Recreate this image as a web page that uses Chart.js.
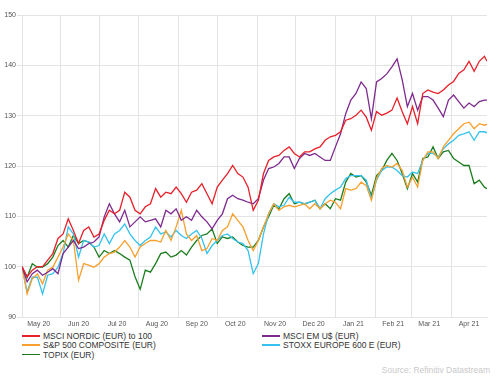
<!DOCTYPE html>
<html>
<head>
<meta charset="utf-8">
<script src="https://cdn.jsdelivr.net/npm/chart.js@4/dist/chart.umd.min.js"></script>
<style>
  body { margin: 0; background: #fff; font-family: "Liberation Sans", Arial, sans-serif; }
  #wrap { position: relative; width: 501px; height: 376px; }
  #legend { position: absolute; left: 22px; top: 332px; width: 470px; font-size: 8.5px; color: #333; line-height: 9.3px; }
  .lg-item { position: absolute; white-space: nowrap; }
  .lg-line { display: inline-block; width: 18px; height: 1.5px; vertical-align: middle; margin-right: 3px; position: relative; top: -1px; }
  #source { position: absolute; right: 11px; top: 365px; font-size: 8.5px; color: #c9c9c9; }
</style>
</head>
<body>
<div id="wrap">
  <canvas id="chart" width="501" height="330"></canvas>
  <div id="legend"></div>
  <div id="source">Source: Refinitiv Datastream</div>
</div>
<script>
// days since 1 May 2020
const days = [
  1, 5, 9, 13, 17, 21, 25, 29, 33, 37,
  41, 45, 49, 53, 57, 61, 65, 69, 73, 77,
  81, 85, 89, 93, 97, 101, 105, 109, 113,
  117, 121, 125, 129, 133, 137, 141, 145, 149, 153,
  157, 161, 165, 169, 173, 177, 181, 185, 189, 193,
  197, 201, 205, 209, 213, 217, 221, 225, 229, 233, 237,
  241, 245, 249, 253, 257, 261, 265, 269, 273, 277,
  281, 285, 289, 293, 297, 301, 305, 309, 313, 317,
  321, 325, 329, 333, 337, 341, 345, 349, 353, 357, 361, 363
];

const nordic = [
  100, 98, 99.3, 100, 100, 101.3, 102.6, 105.6, 106.5, 109.5,
  107.2, 104.6, 107.2, 107.9, 105.9, 106.5, 109.2, 111.2, 110.5, 111.2,
  114.8, 113.8, 111.2, 110.5, 111.9, 112.5, 115.5, 113.8, 114.8,
  114.5, 115.8, 114.5, 112.8, 114.8, 115.2, 116.5, 114.5, 112.5, 115.8,
  117.2, 118.5, 120.1, 118.5, 117.8, 115.8, 111.2, 113.2, 118.5, 121.1,
  121.8, 122.1, 123.1, 123.8, 122.5, 121.8, 122.8, 122.8, 123.4, 123.8, 125.1,
  125.8, 126.1, 126.8, 129.1, 129.4, 130.1, 131.1, 129.7, 127.1, 130.8,
  130.1, 130.5, 131.1, 133.5, 130.8, 128.4, 131.8, 128.4, 134.4, 135.1,
  134.7, 134.4, 135.1, 136.1, 136.8, 138.4, 139.1, 140.8, 138.8, 140.8, 141.8, 140.8
];

const emerging = [
  100, 97, 98.6, 99.3, 98.3, 98.9, 99.6, 98.6, 102.6, 103.9,
  105.2, 103.6, 103.9, 104.6, 104.9, 105.9, 109.9, 112.5, 110.5, 108.9,
  111.2, 107.9, 108.9, 109.9, 108.9, 109.2, 109.5, 107.9, 111.2,
  110.5, 111.5, 109.2, 109.9, 109.2, 111.2, 109.9, 108.9, 107.5, 109.2,
  110.5, 113.5, 114.2, 113.5, 113.2, 112.8, 112.5, 113.5, 117.2, 119.5,
  119.8, 120.5, 121.8, 121.8, 119.5, 121.5, 122.5, 122.1, 122.5, 121.8, 121.1,
  121.1, 123.8, 126.4, 130.4, 133.1, 134.4, 136.7, 135.4, 129.4, 136.7,
  137.4, 138.3, 139.7, 141.3, 137.1, 131.8, 134.4, 131.1, 133.8, 133.8,
  133.1, 131.5, 129.8, 133.1, 134.1, 132.8, 131.5, 132.5, 131.8, 132.8, 133.1, 133.1
];

const sp500 = [
  100, 94.6, 97.6, 98.6, 96.6, 99.3, 99.9, 101.9, 103.9, 106.5,
  105.2, 97.3, 100.6, 100.3, 99.9, 100.6, 101.9, 102.6, 102.9, 103.9,
  105.2, 103.9, 101.9, 103.9, 104.6, 105.2, 105.2, 104.9, 107.2,
  105.2, 107.9, 111.2, 106.5, 105.2, 106.2, 103.2, 103.6, 105.6, 105.2,
  107.2, 107.9, 110.5, 109.2, 107.9, 105.2, 103.2, 105.2, 107.9, 110.5,
  112.5, 111.2, 111.9, 112.2, 111.9, 112.2, 112.5, 111.5, 112.5, 111.5, 112.5,
  113.2, 112.8, 111.5, 115.5, 115.2, 115.5, 116.8, 116.1, 113.2, 117.5,
  119.5, 120.1, 119.8, 120.5, 119.1, 115.8, 117.8, 115.8, 121.1, 122.8,
  122.8, 121.5, 123.8, 125.1, 126.4, 127.4, 128.4, 128.7, 127.4, 128.4, 128.1, 128.3
];

const stoxx600 = [
  100, 95, 97.9, 97.9, 94.6, 98.3, 98.6, 99.9, 102.6, 107.9,
  106.5, 101.9, 105.2, 104.9, 103.9, 104.2, 106.5, 104.6, 106.5, 107.2,
  108.5, 106.5, 105.2, 104.2, 105.2, 105.9, 107.9, 106.5, 106.9,
  105.9, 107.2, 106.2, 105.6, 106.5, 107.2, 105.6, 102.6, 104.2, 105.2,
  106.2, 106.5, 105.6, 104.9, 104.6, 103.2, 98.6, 100.6, 106.5, 110.5,
  112.5, 111.9, 112.2, 113.8, 112.8, 112.8, 112.5, 112.8, 113.2, 111.5, 113.5,
  114.5, 115.2, 115.8, 117.5, 118.1, 118.1, 118.1, 117.2, 113.5, 117.2,
  119.1, 119.8, 119.8, 119.1, 118.1, 117.8, 118.8, 118.5, 121.1, 122.5,
  122.5, 121.8, 123.4, 124.4, 125.1, 126.1, 126.4, 126.8, 125.1, 126.8, 126.8, 126.6
];

const topix = [
  100, 97.9, 100.6, 99.9, 99.9, 100.6, 101.9, 104.2, 105.2, 103.9,
  106.2, 104.6, 105.2, 104.9, 103.9, 101.9, 103.2, 102.6, 103.2, 102.6,
  101.9, 101.3, 98, 95.5, 99.3, 98.9, 100.6, 102.6, 102.9,
  101.9, 102.3, 103.2, 102.3, 103.9, 105.2, 106.2, 106.5, 107.5, 104.6,
  105.9, 105.6, 105.9, 104.9, 104.2, 103.9, 103.9, 105.2, 107.9, 109.9,
  112.2, 111.5, 113.5, 114.5, 112.5, 112.8, 112.5, 112.8, 113.2, 111.5, 112.5,
  111.5, 113.5, 113.2, 116.8, 118.5, 117.8, 118.1, 116.8, 114.2, 118.1,
  119.1, 121.1, 122.5, 121.1, 118.5, 115.5, 118.5, 116.8, 121.5, 121.8,
  123.8, 121.5, 122.8, 123.1, 121.5, 120.8, 120.1, 120.1, 116.5, 117.2, 115.8, 115.5
];

const seriesNames = [
  'MSCI NORDIC (EUR) to 100',
  'MSCI EM U$ (EUR)',
  'S&P 500 COMPOSITE (EUR)',
  'STOXX EUROPE 600 E (EUR)',
  'TOPIX (EUR)'
];
const seriesColors = ['#e8202a', '#7e2a8e', '#f7a02e', '#34c2ee', '#1b7d1f'];
const monthLabels = ['May 20', 'Jun 20', 'Jul 20', 'Aug 20', 'Sep 20', 'Oct 20',
  'Nov 20', 'Dec 20', 'Jan 21', 'Feb 21', 'Mar 21', 'Apr 21'];
const yTicks = [90, 100, 110, 120, 130, 140, 150];

const DAY0 = Date.UTC(2020, 4, 1);
const dayOf = (y, m, d) => (Date.UTC(y, m, d) - DAY0) / 864e5;
const monthStart = [];
const monthMid = [];
monthLabels.forEach((lab, i) => {
  const y = 2020 + Math.floor((4 + i) / 12);
  const m = (4 + i) % 12;
  if (i > 0) monthStart.push(dayOf(y, m, 1));
  monthMid.push(dayOf(y, m, 15));
});
const startSet = new Set(monthStart);
const midLabel = new Map(monthMid.map((v, i) => [v, monthLabels[i]]));

const allSeries = [nordic, emerging, sp500, stoxx600, topix];
const datasets = allSeries.map((vals, i) => ({
  label: seriesNames[i],
  data: vals.map((v, j) => ({ x: days[j], y: v })),
  borderColor: seriesColors[i],
  backgroundColor: seriesColors[i],
  borderWidth: 1.3,
  pointRadius: 0,
  tension: 0,
  fill: false
}));

const gridCol = '#e4e4e4';

new Chart(document.getElementById('chart').getContext('2d'), {
  type: 'line',
  data: { datasets },
  options: {
    responsive: false,
    animation: false,
    devicePixelRatio: 1,
    layout: { padding: { top: 15, right: 14, left: 0, bottom: 0 } },
    plugins: { legend: { display: false }, tooltip: { enabled: false } },
    scales: {
      x: {
        type: 'linear',
        min: 1,
        max: 363,
        afterBuildTicks: scale => {
          scale.ticks = [...monthStart, ...monthMid].sort((a, b) => a - b).map(v => ({ value: v }));
        },
        afterFit: scale => { scale.height = 13; },
        grid: {
          color: ctx => (ctx.tick && startSet.has(ctx.tick.value)) ? gridCol : 'rgba(0,0,0,0)',
          drawTicks: false
        },
        border: { color: gridCol },
        ticks: {
          autoSkip: false,
          maxRotation: 0,
          padding: 3,
          color: '#555',
          font: { family: '"Liberation Sans", Arial, sans-serif', size: 7 },
          callback: v => midLabel.get(v) || ''
        }
      },
      y: {
        min: 90,
        max: 150,
        afterBuildTicks: scale => { scale.ticks = yTicks.map(v => ({ value: v })); },
        afterFit: scale => { scale.width = 22; },
        grid: { color: gridCol, tickLength: 5 },
        border: { color: gridCol },
        ticks: {
          padding: 1,
          color: '#555',
          font: { family: '"Liberation Sans", Arial, sans-serif', size: 7 }
        }
      }
    }
  }
});

// legend in two columns, like the original
const legend = document.getElementById('legend');
const legendPos = [[0, 0], [240, 0], [0, 1], [240, 1], [0, 2]];
seriesNames.forEach((name, i) => {
  const item = document.createElement('div');
  item.className = 'lg-item';
  item.style.left = legendPos[i][0] + 'px';
  item.style.top = (legendPos[i][1] * 9.3) + 'px';
  item.innerHTML = '<span class="lg-line" style="background:' + seriesColors[i] + '"></span>';
  item.appendChild(document.createTextNode(name));
  legend.appendChild(item);
});
</script>
</body>
</html>
